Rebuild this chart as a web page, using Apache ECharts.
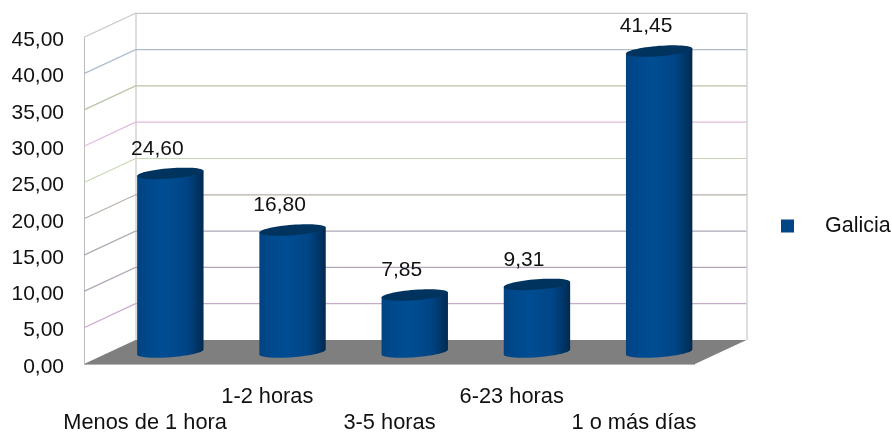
<!DOCTYPE html>
<html>
<head>
<meta charset="utf-8">
<style>html,body{margin:0;padding:0;background:#fff}#chart{width:892px;height:432px}</style>
<script src="https://cdn.jsdelivr.net/npm/echarts@6/dist/echarts.min.js"></script>
</head>
<body>
<div id="chart"></div>
<script>
// Duration categories and the Galicia percentages
const categories = ['Menos de 1 hora', '1-2 horas', '3-5 horas', '6-23 horas', '1 o más días'];
const galicia = [24.60, 16.80, 7.85, 9.31, 41.45];
const yTicks = [0, 5, 10, 15, 20, 25, 30, 35, 40, 45];
const seriesName = 'Galicia';

// Slightly tinted grid lines, one per tick
const gridTints = ['#b8b8b8', '#c9aac9', '#b3a6bb', '#aeaab6', '#b8b0a8', '#c6d6b6', '#dfbcdb', '#b9c4a6', '#aebccb', '#c6c6c6'];

// Pseudo-3D box: how far the back wall sits behind the axis plane
const DEPTH_X = 51.5;
const DEPTH_Y = -24;
const BAR_RX = 33.2;   // cylinder half width
const CAP_RY = 5.2;    // ellipse half height
const CAP_TILT = 2.5;  // rise of the ellipse's right end
const FONT = '"Liberation Sans", Arial, sans-serif';
const BODY = '#004586';

const fmt = v => v.toFixed(2).replace('.', ',');

function ellipsePoints(cx, cy, from, to, n) {
  const pts = [];
  for (let i = 0; i <= n; i++) {
    const t = from + (to - from) * i / n;
    pts.push([cx + BAR_RX * Math.cos(t), cy + CAP_RY * Math.sin(t) - CAP_TILT * Math.cos(t)]);
  }
  return pts;
}

// Floor and wall lines of the box, drawn once per y tick
function renderWall(params, api) {
  const rect = params.coordSys;
  const v = api.value(1);
  const y = api.coord([0, v])[1];
  const left = rect.x, right = rect.x + rect.width;
  const children = [];
  const stroke = gridTints[params.dataIndex];
  if (v === 0) {
    children.push({
      type: 'polygon',
      shape: { points: [[left, y], [right, y], [right + DEPTH_X, y + DEPTH_Y], [left + DEPTH_X, y + DEPTH_Y]] },
      style: { fill: '#7f7f7f' }
    });
    children.push({ type: 'line', shape: { x1: left, y1: y + 0.5, x2: right, y2: y + 0.5 }, style: { stroke: '#b3b3b3', lineWidth: 1 } });
    // Vertical edges of the side and back walls
    const topY = rect.y;
    [[left, y, left, topY], [left + DEPTH_X, y + DEPTH_Y, left + DEPTH_X, topY + DEPTH_Y],
     [right + DEPTH_X, y + DEPTH_Y, right + DEPTH_X, topY + DEPTH_Y]].forEach(s => {
      children.push({
        type: 'line',
        shape: { x1: s[0] + 0.5, y1: s[1], x2: s[2] + 0.5, y2: s[3] },
        style: { stroke: '#bcbcbc', lineWidth: 1 }
      });
    });
  } else {
    children.push({
      type: 'polyline',
      shape: { points: [[left, y], [left + DEPTH_X, y + DEPTH_Y], [right + DEPTH_X, y + DEPTH_Y]] },
      style: { stroke, lineWidth: 1.2, fill: 'none' }
    });
  }
  return { type: 'group', children };
}

// Cylinder standing halfway between the axis plane and the back wall
function renderBar(params, api) {
  const idx = api.value(0), v = api.value(1);
  const base = api.coord([idx, 0]);
  const top = api.coord([idx, v]);
  const cx = base[0] + DEPTH_X / 2 - 0.5;
  const by = base[1] + DEPTH_Y / 2;
  const ty = top[1] + DEPTH_Y / 2;
  // Down the left side, along the front of the base, then up the right side
  const pts = [[cx - BAR_RX, ty + CAP_TILT]]
    .concat(ellipsePoints(cx, by, Math.PI, 0, 40))
    .concat([[cx + BAR_RX, ty - CAP_TILT]]);
  return {
    type: 'group',
    children: [
      {
        type: 'polygon',
        shape: { points: pts },
        style: {
          fill: new echarts.graphic.LinearGradient(0, 0, 1, 0, [
            { offset: 0, color: '#04427f' },
            { offset: 0.1, color: '#00478a' },
            { offset: 0.4, color: '#004d93' },
            { offset: 0.74, color: '#004586' },
            { offset: 0.9, color: '#003566' },
            { offset: 1, color: '#002a50' }
          ])
        }
      },
      {
        type: 'polygon',
        shape: { points: ellipsePoints(cx, ty, 0, Math.PI * 2, 60) },
        style: { fill: '#00345f' }
      },
      {
        type: 'text',
        style: {
          x: cx - 13, y: ty - 24.5,
          text: fmt(v),
          font: '21px ' + FONT,
          fill: '#111',
          align: 'center',
          verticalAlign: 'middle'
        }
      }
    ]
  };
}

const chart = echarts.init(document.getElementById('chart'), null, { renderer: 'canvas' });
chart.setOption({
  animation: false,
  backgroundColor: '#fff',
  textStyle: { fontFamily: FONT },
  grid: { left: 84, right: 197, top: 37.3, bottom: 68, outerBoundsMode: 'none' },
  legend: {
    data: [{ name: seriesName, icon: 'rect', itemStyle: { color: BODY } }],
    left: 781, top: 215,
    itemWidth: 13, itemHeight: 13, padding: 0,
    textStyle: { fontSize: 21.5, color: '#111', fontFamily: FONT, padding: [0, 0, 0, 26] },
    selectedMode: false
  },
  xAxis: {
    type: 'category',
    data: categories,
    axisLine: { show: false },
    axisTick: { show: false },
    splitLine: { show: false },
    axisLabel: {
      interval: 0,
      hideOverlap: false,
      margin: 20,
      fontSize: 21.8,
      lineHeight: 26,
      color: '#111',
      fontFamily: FONT,
      formatter: (value, i) => (i % 2 === 0 ? '\n' + value : value + '\n')
    }
  },
  yAxis: {
    type: 'value',
    min: 0, max: 45, interval: 5,
    axisLine: { show: false },
    axisTick: { show: false },
    splitLine: { show: false },
    axisLabel: {
      margin: 20,
      fontSize: 21,
      color: '#111',
      fontFamily: FONT,
      verticalAlign: 'top',
      lineHeight: 6,
      formatter: v => fmt(v)
    }
  },
  series: [
    {
      type: 'custom',
      name: 'walls',
      silent: true,
      z: 1,
      renderItem: renderWall,
      encode: { x: 0, y: 1 },
      data: yTicks.map(v => [0, v])
    },
    {
      type: 'custom',
      name: seriesName,
      z: 2,
      itemStyle: { color: BODY },
      renderItem: renderBar,
      encode: { x: 0, y: 1 },
      data: galicia.map((v, i) => [i, v])
    }
  ]
});
</script>
</body>
</html>
